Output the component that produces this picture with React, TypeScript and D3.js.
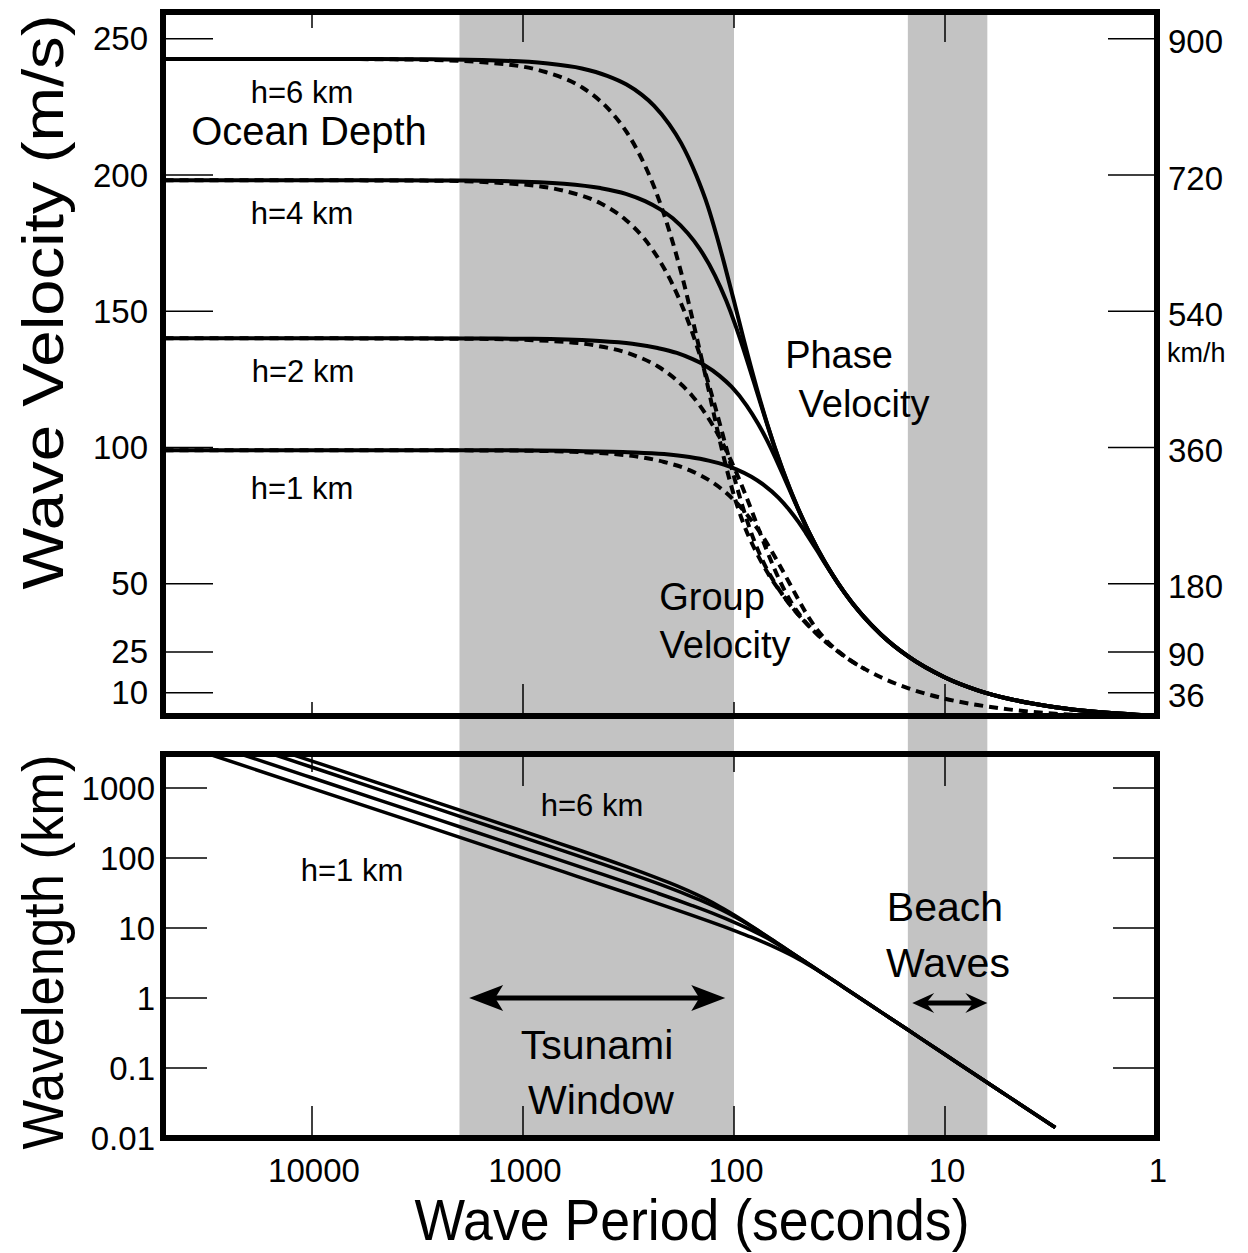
import React from 'react';
import * as d3 from 'd3';

// Wave period (s) and phase / group velocity (m/s) for each ocean depth (finite-depth part)
const depthLabels = ['h=1 km', 'h=2 km', 'h=4 km', 'h=6 km'];

const periodsH1 = [50000, 10000, 5000, 1268.5, 635.1, 319.1, 214.5, 162.6, 131.9, 111.7, 97.5, 82.7, 72.6, 61.6, 54.4, 49.4, 45.7, 40.4, 36.7, 31.7, 28.4, 24.0];
const phaseH1 = [99.0, 99.0, 99.0, 99.0, 98.8, 98.3, 97.6, 96.5, 95.2, 93.7, 92.0, 89.3, 86.4, 81.6, 76.9, 72.6, 68.7, 62.2, 57.0, 49.5, 44.3, 37.4];
const groupH1 = [99.0, 99.0, 99.0, 98.9, 98.5, 97.1, 94.7, 91.7, 88.1, 84.1, 79.8, 73.3, 67.0, 57.6, 50.0, 44.0, 39.4, 33.2, 29.4, 24.9, 22.1, 18.7];

const periodsH2 = [50000, 10000, 5000, 1795, 898.5, 451.5, 303.4, 230.1, 186.6, 158.0, 137.9, 117.0, 102.8, 87.1, 77.0, 69.9, 64.6, 57.1, 51.9, 44.9, 40.1, 33.9];
const phaseH2 = [140.1, 140.1, 140.1, 140.0, 139.9, 139.2, 138.1, 136.5, 134.7, 132.5, 130.2, 126.3, 122.3, 115.4, 108.8, 102.8, 97.3, 88.0, 80.7, 70.0, 62.7, 53.0];
const groupH2 = [140.1, 140.1, 140.0, 139.9, 139.4, 137.4, 134.1, 129.8, 124.6, 119.0, 112.9, 103.7, 94.8, 81.6, 70.7, 62.2, 55.8, 47.0, 41.5, 35.2, 31.3, 26.5];

const periodsH4 = [50000, 10000, 5000, 2539, 1271, 638.7, 429.3, 325.5, 264.0, 223.6, 195.1, 165.6, 145.4, 123.2, 108.9, 98.9, 91.4, 80.8, 73.4, 63.5, 56.8, 48.0];
const phaseH4 = [198.1, 198.1, 198.1, 198.0, 197.8, 196.8, 195.2, 193.1, 190.4, 187.4, 184.1, 178.6, 172.9, 163.2, 153.9, 145.3, 137.5, 124.4, 114.1, 99.0, 88.6, 74.9];
const groupH4 = [198.1, 198.1, 198.0, 197.9, 197.1, 194.2, 189.6, 183.5, 176.3, 168.2, 159.7, 146.7, 134.1, 115.3, 100.0, 88.0, 78.8, 66.4, 58.7, 49.8, 44.3, 37.4];

const periodsH6 = [50000, 10000, 5000, 3109, 1557, 782, 526, 399, 323, 274, 239, 203, 178, 151, 133, 121, 112, 99, 90, 77.7, 69.5, 58.7];
const phaseH6 = [242.6, 242.6, 242.6, 242.5, 242.2, 241.0, 239.1, 236.4, 233.2, 229.5, 225.4, 218.7, 211.7, 199.9, 188.5, 177.9, 168.4, 152.4, 139.7, 121.3, 108.5, 91.7];
const groupH6 = [242.6, 242.6, 242.5, 242.3, 241.4, 237.8, 232.2, 224.7, 215.8, 206.0, 195.6, 179.7, 164.2, 141.2, 122.4, 107.8, 96.6, 81.3, 71.9, 61.0, 54.2, 45.8];

// Deep-water part shared by all depths
const deepPeriods = [58, 50, 40, 30, 20, 15, 10, 7, 5, 3, 2, 1];
const deepPhase = [90.5, 78.1, 62.4, 46.8, 31.2, 23.4, 15.6, 10.9, 7.8, 4.7, 3.1, 1.56];
const deepGroup = [45.3, 39.0, 31.2, 23.4, 15.6, 11.7, 7.8, 5.5, 3.9, 2.3, 1.6, 0.78];

const periodTicks = [10000, 1000, 100, 10, 1];
const periodTickLabels = ['10000', '1000', '100', '10', '1'];
const velocityTicks = [250, 200, 150, 100, 50, 25, 10];
const kmhTicks = [900, 720, 540, 360, 180, 90, 36];
const wavelengthTicks = [1000, 100, 10, 1, 0.1, 0.01];
const wavelengthTickLabels = ['1000', '100', '10', '1', '0.1', '0.01'];
const tsunamiWindow = [2000, 100];
const beachWindow = [15, 6.3];

const FONT = '"Liberation Sans", Arial, Helvetica, sans-serif';

type Pt = { t: number; v: number };
function zip(ts: number[], vs: number[]): Pt[] {
  const n = Math.min(ts.length, vs.length);
  const out: Pt[] = [];
  for (let i = 0; i < n; i++) out.push({ t: ts[i], v: vs[i] });
  return out;
}

const deepPhasePts = zip(deepPeriods, deepPhase);
const deepGroupPts = zip(deepPeriods, deepGroup);

function withTail(pts: Pt[], tail: Pt[]): Pt[] {
  const lastT = pts[pts.length - 1].t;
  return pts.concat(tail.filter(p => p.t < lastT - 2));
}

const depthSeries = [
  { label: depthLabels[0], phase: zip(periodsH1, phaseH1), group: zip(periodsH1, groupH1) },
  { label: depthLabels[1], phase: zip(periodsH2, phaseH2), group: zip(periodsH2, groupH2) },
  { label: depthLabels[2], phase: zip(periodsH4, phaseH4), group: zip(periodsH4, groupH4) },
  { label: depthLabels[3], phase: zip(periodsH6, phaseH6), group: zip(periodsH6, groupH6) },
];

export default function App() {
  const W = 1248, H = 1253;
  const left = 163, right = 1157;
  const topY0 = 12, topY1 = 716;
  const botY0 = 754, botY1 = 1138;

  const x = d3.scaleLog().domain([1, 10000]).range([1156, 312]);
  const yV = d3.scaleLinear().domain([0, 250]).range([720, 38.75]);
  const yL = d3.scaleLog().domain([0.01, 1000]).range([botY1, 788]);

  const lineV = d3.line<Pt>().x(d => x(d.t)).y(d => yV(d.v)).curve(d3.curveMonotoneX);
  const lineL = d3.line<Pt>().x(d => x(d.t)).y(d => yL((d.v * d.t) / 1000)).curve(d3.curveMonotoneX);

  const arrowHead = (xt: number, y: number, dir: number, len = 30, half = 12) => {
    const b = xt - dir * len;
    return `M${xt},${y} L${b},${y - half} L${b + dir * 8},${y} L${b},${y + half} Z`;
  };

  const tsY = yL(1);
  const tsX0 = x(1800), tsX1 = x(110);
  const bwY = yL(1) + 5;
  const bwX0 = x(14.3), bwX1 = x(6.3);

  // group tail: starts where the deepest (h=6) curve joins deep water
  const groupTail = deepGroupPts;

  return (
    <svg width={W} height={H} style={{ position: 'absolute', left: 0, top: 0, background: '#fff' }} fontFamily={FONT}>
      <defs>
        <clipPath id="clipTop"><rect x={left} y={topY0} width={right - left} height={topY1 - topY0} /></clipPath>
        <clipPath id="clipBot"><rect x={left} y={botY0} width={right - left} height={botY1 - botY0} /></clipPath>
      </defs>
      <rect x={0} y={0} width={W} height={H} fill="#fff" />

      {/* shaded windows */}
      {[tsunamiWindow, beachWindow].map((w, i) => (
        <rect key={i} x={x(w[0])} y={topY0} width={x(w[1]) - x(w[0])} height={botY1 - topY0} fill="#c3c3c3" />
      ))}

      {/* ===== top panel ===== */}
      {velocityTicks.map(v => (
        <g key={'lv' + v}>
          <line x1={left} x2={left + 50} y1={yV(v)} y2={yV(v)} stroke="#000" strokeWidth={1.5} />
          <text x={148} y={yV(v)} fontSize={33} textAnchor="end" dominantBaseline="central">{v}</text>
        </g>
      ))}
      {kmhTicks.map(k => (
        <g key={'rk' + k}>
          <line x1={right - 49} x2={right} y1={yV(k / 3.6)} y2={yV(k / 3.6)} stroke="#000" strokeWidth={1.5} />
          <text x={1168} y={yV(k / 3.6) + 3} fontSize={33} textAnchor="start" dominantBaseline="central">{k}</text>
        </g>
      ))}
      <text x={1167} y={353} fontSize={27} dominantBaseline="central">km/h</text>
      {periodTicks.map((t, i) => {
        const long = i % 2 === 1;
        return (
          <g key={'tt' + t}>
            <line x1={x(t)} x2={x(t)} y1={topY0} y2={topY0 + (long ? 30 : 16)} stroke="#000" strokeWidth={1.5} />
            <line x1={x(t)} x2={x(t)} y1={topY1} y2={topY1 - (long ? 32 : 14)} stroke="#000" strokeWidth={1.5} />
          </g>
        );
      })}

      <g clipPath="url(#clipTop)">
        {depthSeries.map(s => (
          <path key={'g' + s.label} d={lineV(s.group) || ''} fill="none" stroke="#000" strokeWidth={4} strokeDasharray="9 6" />
        ))}
        <path d={lineV(groupTail) || ''} fill="none" stroke="#000" strokeWidth={4} strokeDasharray="9 6" />
        {depthSeries.map(s => (
          <path key={'p' + s.label} d={lineV(withTail(s.phase, deepPhasePts)) || ''} fill="none" stroke="#000" strokeWidth={4} />
        ))}
      </g>
      <rect x={left} y={topY0} width={right - left} height={topY1 - topY0} fill="none" stroke="#000" strokeWidth={6} />

      {/* top panel annotations */}
      <g fontSize={31} textAnchor="middle" dominantBaseline="central">
        <text x={302} y={92}>h=6 km</text>
        <text x={302} y={213}>h=4 km</text>
        <text x={303} y={371}>h=2 km</text>
        <text x={302} y={488}>h=1 km</text>
      </g>
      <text x={309} y={131} fontSize={40} textAnchor="middle" dominantBaseline="central">Ocean Depth</text>
      <g fontSize={38} textAnchor="middle" dominantBaseline="central">
        <text x={839} y={355}>Phase</text>
        <text x={864} y={404}>Velocity</text>
        <text x={712} y={597}>Group</text>
        <text x={725} y={645}>Velocity</text>
      </g>

      {/* ===== bottom panel ===== */}
      {wavelengthTicks.slice(0, 5).map(l => (
        <g key={'wl' + l}>
          <line x1={left} x2={left + 44} y1={yL(l)} y2={yL(l)} stroke="#000" strokeWidth={1.5} />
          <line x1={right - 44} x2={right} y1={yL(l)} y2={yL(l)} stroke="#000" strokeWidth={1.5} />
        </g>
      ))}
      {wavelengthTicks.map((l, i) => (
        <text key={'wlt' + l} x={155} y={yL(l)} fontSize={33} textAnchor="end" dominantBaseline="central">{wavelengthTickLabels[i]}</text>
      ))}
      {periodTicks.map((t, i) => {
        const long = i % 2 === 1;
        return (
          <g key={'bt' + t}>
            <line x1={x(t)} x2={x(t)} y1={botY0} y2={botY0 + (long ? 32 : 18)} stroke="#000" strokeWidth={1.5} />
            <line x1={x(t)} x2={x(t)} y1={botY1} y2={botY1 - 32} stroke="#000" strokeWidth={1.5} />
          </g>
        );
      })}
      <g clipPath="url(#clipBot)">
        {depthSeries.map(s => (
          <path key={'l' + s.label} d={lineL(withTail(s.phase, deepPhasePts).filter(d => d.t >= 3)) || ''} fill="none" stroke="#000" strokeWidth={3.5} />
        ))}
      </g>
      <rect x={left} y={botY0} width={right - left} height={botY1 - botY0} fill="none" stroke="#000" strokeWidth={6} />

      <g fontSize={31} textAnchor="middle" dominantBaseline="central">
        <text x={592} y={805}>h=6 km</text>
        <text x={352} y={870}>h=1 km</text>
      </g>

      {/* arrows */}
      <line x1={tsX0 + 20} x2={tsX1 - 20} y1={tsY} y2={tsY} stroke="#000" strokeWidth={5} />
      <path d={arrowHead(tsX0, tsY, -1, 34, 13)} fill="#000" />
      <path d={arrowHead(tsX1, tsY, 1, 34, 13)} fill="#000" />
      <line x1={bwX0 + 12} x2={bwX1 - 12} y1={bwY} y2={bwY} stroke="#000" strokeWidth={5} />
      <path d={arrowHead(bwX0, bwY, -1, 22, 10)} fill="#000" />
      <path d={arrowHead(bwX1, bwY, 1, 22, 10)} fill="#000" />

      <g fontSize={41} textAnchor="middle" dominantBaseline="central">
        <text x={597} y={1045}>Tsunami</text>
        <text x={601} y={1100}>Window</text>
        <text x={945} y={907}>Beach</text>
        <text x={948} y={963}>Waves</text>
      </g>

      {/* x tick labels */}
      {periodTicks.map((t, i) => (
        <text key={'xl' + t} x={x(t) + 2} y={1170} fontSize={33} textAnchor="middle" dominantBaseline="central">{periodTickLabels[i]}</text>
      ))}

      {/* axis titles */}
      <text x={692} y={1240} fontSize={58} textAnchor="middle" textLength={555} lengthAdjust="spacingAndGlyphs">Wave Period (seconds)</text>
      <text transform="translate(63,302) rotate(-90)" fontSize={58} textAnchor="middle" textLength={575} lengthAdjust="spacingAndGlyphs">Wave Velocity (m/s)</text>
      <text transform="translate(63,952) rotate(-90)" fontSize={58} textAnchor="middle" textLength={395} lengthAdjust="spacingAndGlyphs">Wavelength (km)</text>
    </svg>
  );
}
